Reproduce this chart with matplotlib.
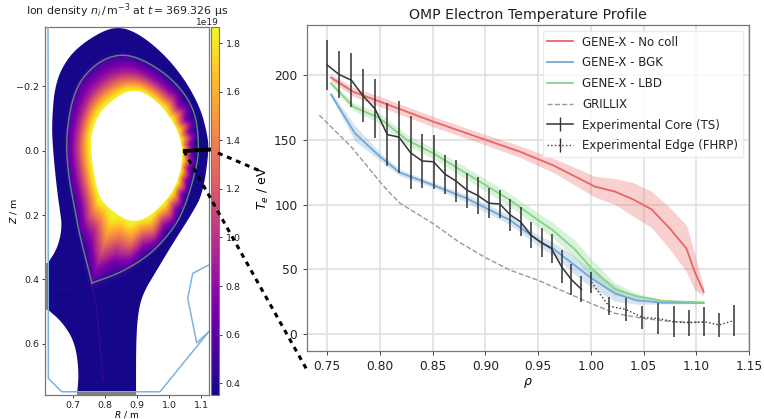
import numpy as np
import matplotlib
matplotlib.use('Agg')
import matplotlib.pyplot as plt
from matplotlib.lines import Line2D
from matplotlib.patches import Polygon
from matplotlib.cm import ScalarMappable
from matplotlib.colors import Normalize

# ---- right panel: temperature profiles
rho_red = [0.7535, 0.7747, 0.80, 0.8505, 0.90, 0.9327, 0.9642, 1.004, 1.0228, 1.04, 1.0575, 1.0748, 1.0907, 1.0985, 1.107]
te_red = [198, 187, 179.4, 164, 150, 140.8, 130.3, 113.8, 110, 104, 96.3, 81.6, 66, 48, 32.7]
err_red = [2.5, 3.5, 4, 4, 4, 4.5, 5.5, 8, 10, 13, 14, 16, 18, 14, 3]

rho_blue = [0.7535, 0.7762, 0.80, 0.8189, 0.8505, 0.882, 0.9232, 0.9516, 0.9642, 0.9848, 1.0006, 1.0228, 1.0432, 1.0687, 1.107]
te_blue = [185, 155, 137, 124.6, 115, 104.8, 88, 71.3, 66, 53, 43, 31.4, 26, 24.2, 24]
err_blue = [2, 6, 3, 2.5, 2, 3, 3.5, 4, 5, 7, 7, 6, 3, 1, 0.5]

rho_green = [0.7535, 0.7747, 0.80, 0.8253, 0.8505, 0.882, 0.9232, 0.9516, 0.9642, 0.9848, 1.0006, 1.0228, 1.0432, 1.0687, 1.107]
te_green = [193.6, 175.5, 166.5, 150, 139.5, 124, 103.5, 87, 80, 65.4, 50.7, 34.7, 29.3, 25.5, 24.5]
err_green = [2, 3, 4, 4, 4, 4.5, 5, 5.5, 6, 7, 7, 5, 2, 1, 0.5]

rho_grillix = [0.7424, 0.7728, 0.80, 0.8069, 0.819, 0.85, 0.875, 0.90, 0.9232, 0.9516, 0.9642, 1.0, 1.0228, 1.05, 1.0786, 1.107]
te_grillix = [169, 144.5, 117.5, 111, 101, 85.5, 71, 59, 49.4, 41, 36.5, 23.7, 16, 12, 9.5, 9]

rho_core = [0.75, 0.761, 0.7728, 0.7838, 0.7952, 0.8069, 0.818, 0.829, 0.84, 0.8508, 0.8616, 0.8723, 0.8827, 0.8928,
            0.9033, 0.9137, 0.9235, 0.9333, 0.9431, 0.9532, 0.9627, 0.9722, 0.9816, 0.9911]
te_core = [207.7, 200.5, 196, 184, 174, 154, 152, 140, 133.6, 133, 123.5, 118, 111, 107,
           101, 100.4, 92, 86.7, 76.4, 70.5, 66, 52, 42, 34.5]
err_core = [19, 18, 21, 20.5, 23, 24, 28, 28, 21, 21, 15, 16, 13.5, 14,
            11.5, 11, 12.5, 11, 10, 11, 11, 12.5, 12, 10]

rho_edge = [1.0006, 1.017, 1.033, 1.0487, 1.064, 1.0786, 1.0932, 1.1077, 1.1216, 1.1355]
te_edge = [40, 21.6, 19, 12.9, 12, 9.5, 8.7, 9.5, 7, 10.3]
err_edge = [8, 7, 9, 9, 12, 12, 10, 11, 9, 12]

# ---- left panel: outlines, R and Z in m
arc_R = [0.621, 0.652, 0.665, 0.658, 0.649, 0.6366, 0.6325, 0.643, 0.683, 0.743, 0.821, 0.8866, 0.971, 1.043, 1.096,
         1.118, 1.124, 1.105, 1.074, 1.0116, 0.9616, 0.918, 0.902, 0.896, 0.896]
arc_Z = [0.349, 0.2995, 0.237, 0.184, 0.122, 0.0, -0.086, -0.21, -0.291, -0.344, -0.3855, -0.375, -0.313, -0.23, -0.136,
         -0.055, 0.0, 0.131, 0.19, 0.287, 0.37, 0.442, 0.504, 0.598, 0.76]
leg_left_R = [0.7116, 0.7178, 0.7053, 0.6678, 0.621]
leg_left_Z = [0.76, 0.687, 0.597, 0.535, 0.494]

inner_R = [1.0428, 1.024, 0.9616, 0.883, 0.793, 0.7616, 0.752, 0.774, 0.805, 0.877, 0.94, 1.011, 1.037]
inner_Z = [0.0, -0.074, -0.158, -0.198, -0.136, -0.074, -0.012, 0.131, 0.175, 0.225, 0.206, 0.131, 0.06]

# starts and ends at the X-point
sep_R = [0.758, 0.721, 0.705, 0.683, 0.677, 0.7053, 0.774, 0.855, 0.94, 1.024, 1.08, 1.0928, 1.0866, 1.043, 0.993, 0.93, 0.846, 0.758]
sep_Z = [0.411, 0.268, 0.184, 0.069, -0.055, -0.198, -0.276, -0.304, -0.273, -0.21, -0.1265, -0.024, 0.05, 0.194, 0.268, 0.33, 0.38, 0.411]

# angle from the plasma centre, density in 1e19 for steps from inner outline to separatrix and beyond
sector_angle = [-180, -135, -90, -45, 0, 45, 90, 135, 180]
step_frac = [0.0, 0.1, 0.3, 0.55, 0.8, 1.0, 1.1]
sector_density = [[1.86, 1.82, 1.52, 1.08, 0.74, 0.56, 0.38],
                  [1.86, 1.80, 1.40, 0.95, 0.68, 0.54, 0.38],
                  [1.86, 1.74, 1.35, 0.92, 0.66, 0.50, 0.38],
                  [1.86, 1.76, 1.38, 0.90, 0.60, 0.44, 0.38],
                  [1.86, 1.72, 1.28, 0.86, 0.55, 0.42, 0.38],
                  [1.86, 1.76, 1.38, 0.95, 0.60, 0.44, 0.38],
                  [1.86, 1.78, 1.50, 1.12, 0.74, 0.50, 0.38],
                  [1.86, 1.80, 1.46, 1.02, 0.68, 0.52, 0.38],
                  [1.86, 1.82, 1.52, 1.08, 0.74, 0.56, 0.38]]
streak_angle = [-60, -52, -44, -38, -30, -24, -18, -12, -6, 0, 6, 12, 18, 24, 30, 36, 42, 48, 54, 60, 68, 76, 84, 92, 100, 108, 116, 124, 132]
streak = [0.0, 0.1, -0.1, 0.12, -0.14, 0.14, -0.12, 0.16, -0.14, 0.1, -0.12, 0.14, -0.16, 0.12, -0.1, 0.14, -0.14, 0.12, -0.1,
          0.12, -0.12, 0.14, -0.12, 0.12, -0.1, 0.12, -0.1, 0.08, 0.0]

wall_R = [0.621, 0.622, 0.664, 0.971, 1.123]
wall_Z = [-0.3855, 0.7075, 0.749, 0.749, 0.5627]
baffle_R = [1.123, 1.073, 1.0575, 1.0856, 1.123]
baffle_Z = [0.355, 0.381, 0.459, 0.597, 0.5627]
leg_R = [0.758, 0.774, 0.783, 0.793]
leg_Z = [0.411, 0.495, 0.598, 0.713]
band_R = [0.625, 0.69, 0.758]
band_Z = [0.43, 0.43, 0.411]
omp_R = [1.0428, 1.132]
omp_Z = [0.001, -0.004]

vmin, vmax = 0.35, 1.868
cmap = plt.get_cmap('plasma')
norm = Normalize(vmin, vmax)

fig = plt.figure(figsize=(7.64, 4.19), dpi=100)
W, H = 764.0, 419.0


def place(x0, y0, x1, y1):
    return fig.add_axes([x0 / W, 1 - y1 / H, (x1 - x0) / W, (y1 - y0) / H])


def smooth(Rs, Zs, closed=False, n=3):
    # corner cutting, ends stay put unless closed
    p = np.column_stack([Rs, Zs]).astype(float)
    for _ in range(n):
        a = np.vstack([p, p[:1]]) if closed else p
        q = np.empty((2 * (len(a) - 1), 2))
        q[0::2] = 0.75 * a[:-1] + 0.25 * a[1:]
        q[1::2] = 0.25 * a[:-1] + 0.75 * a[1:]
        p = q if closed else np.vstack([a[:1], q, a[-1:]])
    return p


ax = place(44.7, 26.7, 208.7, 395.3)
cax = place(210.7, 26.7, 219.3, 395.3)
ax2 = place(306.5, 25, 749, 351)

# ---- density map
edge = np.vstack([smooth(arc_R, arc_Z), smooth(leg_left_R, leg_left_Z)])
inner = smooth(inner_R, inner_Z, closed=True)
sep = smooth(sep_R, sep_Z)

R0, Z0 = 0.8866, 0.0
grid = np.radians(np.arange(-180, 180.25, 0.5))


def radius(p):
    ang = np.arctan2(p[:, 1] - Z0, p[:, 0] - R0)
    rad = np.hypot(p[:, 0] - R0, p[:, 1] - Z0)
    o = np.argsort(ang)
    return np.interp(grid, ang[o], rad[o], period=2 * np.pi)


r_in = radius(inner)
r_sep = radius(sep)
frac = np.array(step_frac)
fine = np.linspace(0, 1.1, 45)
rr = r_in[:, None] + (r_sep - r_in)[:, None] * fine[None, :]
XX = R0 + rr * np.cos(grid)[:, None]
ZZ = Z0 + rr * np.sin(grid)[:, None]
table = np.array(sector_density)
deg = np.degrees(grid)
by_step = np.array([np.interp(deg, sector_angle, table[:, j]) for j in range(len(frac))]).T
CC = np.array([np.interp(fine, frac, row) for row in by_step])
st = np.interp(deg, streak_angle, streak, left=0, right=0)
CC = CC + st[:, None] * np.interp(fine, [0, 0.1, 0.5, 1.0, 1.1], [0, 0.5, 1.0, 0.5, 0])[None, :]

dom = Polygon(edge, closed=True, fc=cmap(norm(0.37)), ec='none', zorder=1)
ax.add_patch(dom)
mesh = ax.pcolormesh(XX, ZZ, CC, cmap=cmap, norm=norm, shading='gouraud', zorder=2)
mesh.set_clip_path(dom)
ax.add_patch(Polygon(inner, closed=True, fc='white', ec='none', zorder=3))
ax.plot(leg_R, leg_Z, color=cmap(norm(0.56)), lw=1.0, alpha=0.6, zorder=3)
ax.plot(band_R, band_Z, color=cmap(norm(0.46)), lw=1.4, alpha=0.35, zorder=1.5)
ax.plot(sep[:, 0], sep[:, 1], color='#4f8f78', lw=1.0, zorder=4)
ax.plot(wall_R, wall_Z, color='#7fb2dc', lw=1.1, zorder=4)
ax.plot(baffle_R, baffle_Z, color='#7fb2dc', lw=1.1, zorder=4)
ax.fill_between([0.6106, 0.621], 0.349, 0.494, color='#808080', lw=0, zorder=4)
ax.fill_between([0.7116, 0.896], 0.749, 0.76, color='#808080', lw=0, zorder=4)
ax.plot(omp_R, omp_Z, color='black', lw=2.8, zorder=5, clip_on=False, solid_capstyle='butt')
ax.set_xlim(0.6106, 1.123)
ax.set_ylim(0.76, -0.3855)
ax.set_xticks([0.7, 0.8, 0.9, 1.0, 1.1])
ax.set_yticks([-0.2, 0.0, 0.2, 0.4, 0.6])
ax.tick_params(labelsize=6.8, length=2.5, width=0.6, pad=1.5, colors='#222222')
ax.set_xlabel(r'$R$ / m', fontsize=6.5, labelpad=-0.6)
ax.set_ylabel(r'$Z$ / m', fontsize=6.8, labelpad=-2)
fig.text(127 / W, 1 - 10.5 / H, r'Ion density $n_i\,/\,\mathrm{m}^{-3}$ at $t = 369.326$ µs',
         fontsize=7.9, ha='center', va='center', color='#222222')
for s in ax.spines.values():
    s.set_color('#777777')
    s.set_linewidth(0.9)

cb = fig.colorbar(ScalarMappable(norm=Normalize(vmin * 1e19, vmax * 1e19), cmap=cmap), cax=cax)
cb.set_ticks(np.array([0.4, 0.6, 0.8, 1.0, 1.2, 1.4, 1.6, 1.8]) * 1e19)
cb.ax.tick_params(labelsize=6.8, length=2.5, width=0.6, pad=2, colors='#222222')
cb.ax.yaxis.get_offset_text().set_visible(False)
fig.text(219 / W, 1 - 22.8 / H, '1e19', fontsize=6.5, ha='right', va='center', color='#222222')
cb.outline.set_edgecolor('#777777')

# ---- temperature profiles
for rho, te, err, col in [(rho_red, te_red, err_red, '#ea6465'),
                          (rho_blue, te_blue, err_blue, '#72a8d8'),
                          (rho_green, te_green, err_green, '#86d486')]:
    te = np.array(te)
    err = np.array(err)
    ax2.fill_between(rho, te - err, te + err, color=col, alpha=0.3, lw=0, zorder=2)
    ax2.plot(rho, te, color=col, lw=1.3, zorder=3)
ax2.plot(rho_grillix, te_grillix, color='#999999', lw=1.0, ls='--', zorder=3)
ax2.errorbar(rho_core, te_core, yerr=err_core, color='#333333', lw=1.1, elinewidth=1.1, zorder=4)
ax2.errorbar(rho_edge, te_edge, yerr=err_edge, color='#333333', lw=1.0, ls=':', elinewidth=1.1, zorder=4)
ax2.set_xlim(0.7303, 1.15)
ax2.set_ylim(-13.1, 238.6)
ax2.set_xticks([0.75, 0.80, 0.85, 0.90, 0.95, 1.00, 1.05, 1.10, 1.15])
ax2.set_xticklabels(['0.75', '0.80', '0.85', '0.90', '0.95', '1.00', '1.05', '1.10', '1.15'])
ax2.set_yticks([0, 50, 100, 150, 200])
ax2.grid(color='#e0e0e0', lw=1.2, zorder=0)
ax2.set_axisbelow(True)
ax2.tick_params(labelsize=8.8, length=3, width=0.6, colors='#222222')
ax2.set_xlabel(r'$\rho$', fontsize=9, labelpad=2)
ax2.set_ylabel(r'$T_e$ / eV', fontsize=9, labelpad=2)
ax2.set_title('OMP Electron Temperature Profile', fontsize=10.2, color='#222222', pad=4)
for s in ax2.spines.values():
    s.set_color('#777777')
    s.set_linewidth(0.9)

handles = [Line2D([], [], color='#ea6465', lw=1.3),
           Line2D([], [], color='#72a8d8', lw=1.3),
           Line2D([], [], color='#86d486', lw=1.3),
           Line2D([], [], color='#999999', lw=1.0, ls='--'),
           Line2D([], [], color='#333333', lw=1.1, marker='|', ms=10, mew=1.0),
           Line2D([], [], color='#333333', lw=1.0, ls=':', marker='|', ms=10, mew=1.0)]
labels = ['GENE-X - No coll', 'GENE-X - BGK', 'GENE-X - LBD', 'GRILLIX',
          'Experimental Core (TS)', 'Experimental Edge (FHRP)']
ax2.legend(handles, labels, loc='upper right', fontsize=8.45, labelspacing=0.66, handlelength=2.2,
           borderaxespad=0.5, labelcolor='#222222', framealpha=0.8, edgecolor='#e8e8e8')

# ---- dashed zoom lines across panels
fig.add_artist(Line2D([218 / W, 259 / W], [1 - 153 / H, 1 - 170.5 / H], color='black', lw=2.2, ls=(0, (1.6, 1.6))))
fig.add_artist(Line2D([184 / W, 307 / W], [1 - 151 / H, 1 - 370 / H], color='black', lw=2.2, ls=(0, (1.6, 1.6))))

fig.savefig('out.png', dpi=100)
